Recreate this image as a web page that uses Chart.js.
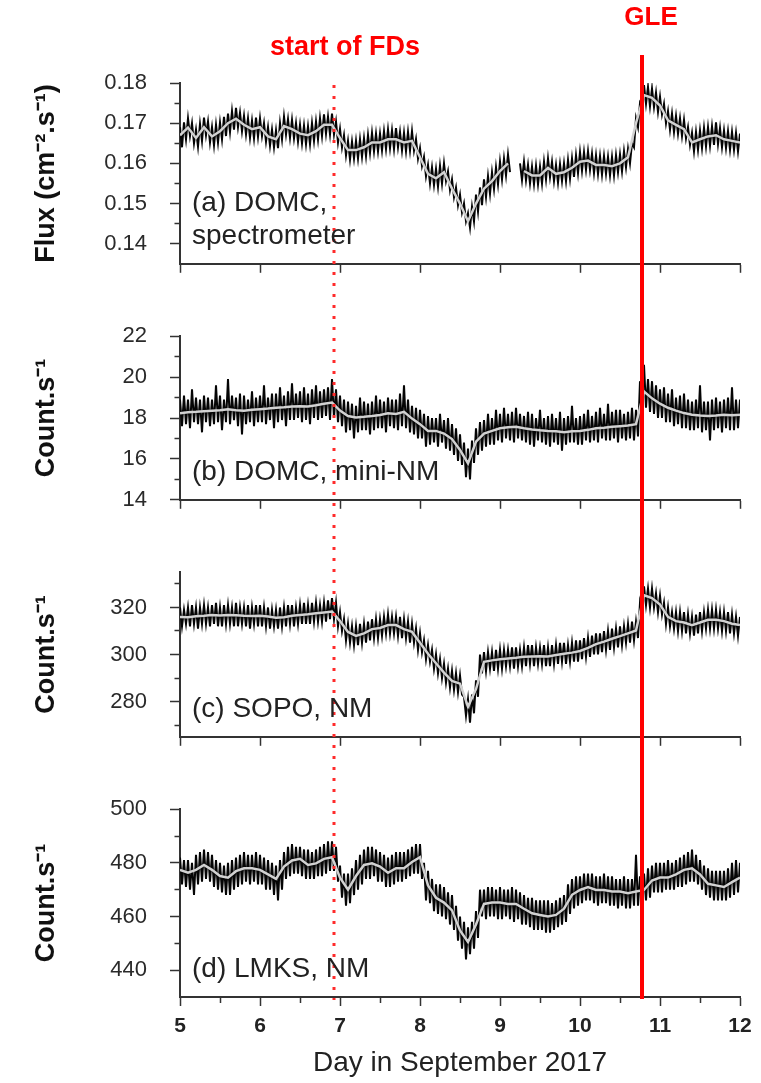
<!DOCTYPE html>
<html>
<head>
<meta charset="utf-8">
<script src="https://cdn.jsdelivr.net/npm/chart.js@4/dist/chart.umd.min.js"></script>
<style>
  html, body { margin: 0; padding: 0; background: #fff; }
  #wrap { position: relative; width: 761px; height: 1083px; }
  canvas { position: absolute; left: 0; }
</style>
</head>
<body>
<div id="wrap">
  <canvas id="panelA" width="761" height="300" style="top:0px"></canvas>
  <canvas id="panelB" width="761" height="236" style="top:300px"></canvas>
  <canvas id="panelC" width="761" height="237" style="top:536px"></canvas>
  <canvas id="panelD" width="761" height="310" style="top:773px"></canvas>
</div>
<script>
const dayMin = 5;
const dayMax = 12;
const rawStep = 0.025;    // raw samples, alternating upper / lower edge of the noisy trace
const smoothStep = 0.1;   // smoothed (grey) curve
const fdStart = 6.93;
const gleTime = 10.77;

// (a) DOMC spectrometer flux, one row per day
const domcSpecRaw = [
  .1690,.1640,.1702,.1660, .1712,.1668,.1700,.1650, .1684,.1642,.1698,.1656, .1714,.1670,.1704,.1652, .1690,.1645,.1696,.1652,
  .1702,.1660,.1716,.1668, .1724,.1678,.1730,.1684, .1738,.1690,.1726,.1680, .1718,.1672,.1712,.1664, .1706,.1662,.1714,.1666,
  .1712,.1668,.1700,.1654, .1690,.1644,.1684,.1640, .1682,.1638,.1700,.1660, .1716,.1672,.1710,.1664, .1708,.1662,.1700,.1654,
  .1696,.1650,.1694,.1648, .1692,.1648,.1700,.1656, .1704,.1660,.1712,.1668, .1722,.1674,.1716,.1672, .1724,.1672,.1704,.1652,
  .1686,.1640,.1670,.1620, .1656,.1610,.1654,.1612, .1656,.1612,.1660,.1616, .1662,.1618,.1670,.1626, .1676,.1630,.1674,.1630,
  .1674,.1632,.1680,.1636, .1684,.1638,.1682,.1636, .1688,.1640,.1678,.1632, .1676,.1630,.1678,.1632, .1680,.1632,.1660,.1612,
  .1638,.1594,.1616,.1568, .1596,.1550,.1590,.1546, .1586,.1542,.1594,.1550, .1600,.1556,.1580,.1534, .1560,.1516,.1540,.1496,
  .1522,.1478,.1500,.1456, .1476,.1440,.1492,.1456, .1522,.1480,.1540,.1496, .1560,.1516,.1568,.1524, .1578,.1536,.1590,.1548,
  .1604,.1560,.1612,.1570, .1622,.1578,null,null, null,null,.1600,.1558, .1604,.1558,.1596,.1550, .1592,.1548,.1594,.1548,
  .1592,.1550,.1604,.1560, .1612,.1566,.1604,.1556, .1596,.1552,.1598,.1556, .1600,.1556,.1608,.1562, .1612,.1566,.1620,.1576,
  .1628,.1582,.1628,.1584, .1630,.1584,.1624,.1576, .1620,.1574,.1618,.1572, .1618,.1574,.1616,.1570, .1616,.1570,.1620,.1578,
  .1622,.1580,.1630,.1590, .1636,.1600,.1650,.1640, .1712,.1690,.1750,.1740, .1795,.1748,.1790,.1742, .1786,.1740,.1776,.1728,
  .1766,.1722,.1748,.1700, .1730,.1684,.1724,.1678, .1718,.1674,.1712,.1668, .1708,.1662,.1690,.1646, .1676,.1630,.1678,.1634,
  .1682,.1638,.1688,.1642, .1690,.1644,.1692,.1646, .1702,.1648,.1688,.1640, .1682,.1638,.1680,.1634, .1678,.1634,.1676,.1630,
  .1674
];
const domcSpecSmooth = [
  .1670,.1689,.1663,.1690,.1667,.1680,.1700,.1711,.1696,.1685,
  .1690,.1667,.1660,.1693,.1685,.1674,.1670,.1680,.1696,.1696,
  .1663,.1633,.1633,.1640,.1652,.1652,.1660,.1660,.1652,.1656,
  .1615,.1574,.1563,.1578,.1537,.1500,.1456,.1500,.1537,.1556,
  .1581,.1600,null,.1581,.1570,.1570,.1589,.1574,.1578,.1589,
  .1604,.1607,.1596,.1596,.1593,.1600,.1615,.1700,.1770,.1763,
  .1744,.1707,.1696,.1685,.1652,.1660,.1667,.1670,.1660,.1656,.1652
];

// (b) DOMC mini neutron monitor
const domcMiniRaw = [
  18.9,17.6,19.1,17.7, 18.9,17.5,19.4,17.8, 19.0,17.7,18.9,17.3, 19.1,17.8,19.0,17.6, 18.9,17.7,19.6,17.8,
  19.1,17.4,18.9,17.8, 19.9,17.7,19.1,17.9, 19.0,17.6,19.2,17.2, 19.1,17.7,18.9,17.8, 19.3,17.6,19.0,17.8,
  19.1,17.8,19.6,17.7, 19.0,17.9,19.2,17.5, 19.2,17.8,19.5,17.9, 19.1,17.6,19.3,17.9, 19.7,17.9,19.2,18.0,
  19.3,17.8,19.5,17.9, 19.2,17.7,19.4,18.0, 19.6,17.9,19.3,18.0, 19.4,18.1,19.5,17.9, 19.9,18.0,19.4,17.8,
  19.1,17.6,18.9,17.3, 18.8,17.4,18.7,17.0, 18.6,17.3,19.0,17.4, 18.8,17.4,18.7,17.2, 18.8,17.4,19.1,17.5,
  18.9,17.5,18.8,17.3, 19.0,17.6,18.9,17.5, 18.9,17.4,19.2,17.6, 19.6,17.5,18.9,17.3, 18.6,17.2,18.5,17.0,
  18.4,17.0,18.2,16.6, 18.1,16.7,18.0,16.8, 18.0,16.6,18.2,16.8, 17.9,16.5,18.0,16.4, 17.7,16.2,17.5,15.9,
  17.2,15.7,16.8,15.1, 16.5,15.0,16.9,15.8, 17.5,16.2,17.8,16.4, 17.9,16.6,18.2,16.7, 18.0,16.7,18.4,16.9,
  18.2,16.8,18.5,17.0, 18.2,16.9,18.3,16.8, 18.5,17.0,18.2,16.9, 18.1,16.8,18.3,16.7, 18.2,16.6,18.0,16.9,
  18.4,16.8,18.0,16.7, 18.1,16.6,18.2,16.8, 18.0,16.7,18.3,16.4, 18.0,16.7,18.1,16.8, 18.6,16.8,18.0,16.7,
  18.1,16.7,18.2,16.9, 18.4,16.8,18.1,16.9, 18.3,16.8,18.5,17.0, 18.2,16.9,18.7,16.9, 18.3,17.0,18.4,16.8,
  18.4,17.0,18.2,16.9, 18.3,17.0,18.5,16.9, 18.4,17.1,19.8,18.5, 20.6,18.5,19.9,18.3, 19.8,18.2,19.6,18.0,
  19.4,18.0,19.5,17.8, 19.2,17.8,19.4,17.6, 19.0,17.7,19.1,17.5, 19.2,17.5,18.9,17.4, 18.8,17.4,18.9,17.5,
  19.6,17.3,18.8,17.4, 18.8,16.9,18.9,17.4, 19.0,17.5,18.8,17.3, 18.9,17.5,19.0,17.4, 19.5,17.4,18.9,17.5,
  18.9
];
const domcMiniSmooth = [
  18.23,18.28,18.30,18.33,18.36,18.38,18.43,18.38,18.36,18.40,
  18.43,18.46,18.50,18.52,18.56,18.58,18.56,18.62,18.70,18.76,
  18.36,18.10,18.03,18.06,18.10,18.15,18.23,18.20,18.30,17.97,
  17.70,17.37,17.37,17.24,16.97,16.44,15.78,16.84,17.24,17.37,
  17.50,17.55,17.57,17.50,17.44,17.40,17.37,17.35,17.30,17.35,
  17.37,17.42,17.50,17.52,17.57,17.60,17.63,17.70,19.29,18.96,
  18.70,18.50,18.36,18.24,18.16,18.12,18.10,18.12,18.16,18.14,18.16
];

// (c) SOPO neutron monitor
const sopoRaw = [
  320,312,319,313, 320,312,321,313, 320,311,320,313, 321,313,320,312, 321,313,322,312,
  320,312,321,313, 321,313,320,312, 322,312,320,313, 320,312,321,311, 320,313,321,312,
  321,312,320,312, 320,311,319,312, 319,311,320,312, 320,312,321,313, 321,312,320,313,
  321,313,322,313, 321,313,322,314, 322,314,321,314, 322,314,323,315, 324,315,322,312,
  318,310,315,306, 313,305,312,304, 312,304,313,305, 313,305,314,306, 315,307,315,307,
  315,308,316,309, 317,309,316,309, 316,308,316,307, 315,307,314,305, 313,305,311,302,
  309,301,306,298, 304,297,302,294, 300,292,298,290, 296,288,294,286, 293,285,292,284,
  291,283,282,274, 281,271,283,275, 289,282,300,292, 301,293,301,294, 301,293,302,294,
  302,294,302,295, 302,295,303,294, 303,295,302,295, 303,295,304,296, 304,295,303,296,
  303,296,304,295, 303,295,304,296, 304,296,305,297, 305,296,304,297, 305,297,306,297,
  306,298,307,299, 307,299,308,300, 309,300,309,301, 310,302,310,302, 311,303,311,303,
  312,304,312,305, 313,305,314,306, 314,307,322,318, 329,321,328,320, 328,320,326,318,
  325,317,322,313, 320,312,318,311, 318,310,318,310, 318,309,317,309, 316,308,317,309,
  318,310,318,311, 319,311,319,311, 319,311,318,310, 318,310,318,309, 317,309,316,308,
  316
];
const sopoSmooth = [
  316.0,315.8,316.3,316.5,316.8,316.6,316.8,316.7,316.5,316.4,
  316.5,316.2,315.6,315.8,316.5,316.8,317.1,317.5,317.9,318.3,
  314.2,309.6,307.9,309.0,310.8,311.3,312.5,312.5,310.8,309.6,
  305.0,300.3,296.3,292.3,288.8,287.6,277.8,285.3,296.9,297.5,
  298.0,298.3,298.6,299.0,299.2,299.3,299.2,299.8,300.3,300.8,
  301.5,302.8,304.4,305.5,306.7,307.8,309.0,310.2,325.2,324.0,
  321.2,316.0,314.2,313.6,312.5,313.6,314.8,314.8,314.2,313.1,312.5
];

// (d) LMKS neutron monitor
const lmksRaw = [
  482,472,481,471, 481,470,480,468, 483,472,484,473, 485,474,484,473, 483,471,481,470,
  480,469,479,468, 480,468,481,470, 482,471,483,472, 484,473,483,472, 483,473,484,472,
  483,472,482,470, 481,470,480,468, 479,466,481,470, 484,474,486,475, 487,476,486,476,
  486,475,485,474, 485,474,484,474, 485,475,486,475, 487,476,488,477, 488,477,486,473,
  479,467,476,464, 476,465,478,468, 481,470,483,472, 485,474,486,474, 486,475,485,473,
  484,473,483,471, 482,471,483,472, 484,473,484,473, 484,474,485,475, 486,476,487,476,
  487,474,480,466, 477,465,474,462, 472,461,472,460, 471,459,469,457, 468,455,464,451,
  460,448,458,444, 456,446,458,448, 462,452,470,460, 470,459,471,460, 471,460,470,459,
  471,459,470,460, 470,459,471,458, 470,459,469,457, 468,457,467,456, 467,455,466,455,
  466,455,466,454, 466,454,465,455, 466,456,467,457, 468,458,472,461, 474,463,475,464,
  475,465,476,466, 476,466,476,465, 475,464,475,465, 476,465,475,464, 475,464,474,463,
  474,464,475,463, 474,463,474,464, 483,464,475,465, 476,466,478,467, 479,469,480,469,
  480,469,480,470, 481,470,480,470, 481,471,482,471, 483,472,484,473, 485,473,483,472,
  481,470,479,468, 478,467,477,466, 477,466,477,466, 477,466,478,467, 480,468,481,469,
  480
];
const lmksSmooth = [
  477.4,476.3,477.4,479.2,477.4,475.1,474.5,476.9,478.0,478.0,
  477.4,475.7,474.0,478.6,480.9,481.5,479.2,479.8,481.5,482.1,
  474.5,470.0,475.1,479.2,479.8,478.6,476.3,478.0,478.0,480.3,
  482.1,471.6,467.0,465.2,462.3,454.8,450.5,457.0,464.7,465.2,
  465.2,464.7,464.7,462.9,461.2,460.6,460.0,460.6,462.9,468.1,
  469.9,471.0,469.9,469.9,469.3,469.3,468.7,469.3,469.9,473.4,
  474.5,474.5,475.7,477.4,478.0,475.7,472.2,471.6,471.0,472.8,474.5
];

const FONT = "'Liberation Sans', Arial, Helvetica, sans-serif";
Chart.defaults.font.family = FONT;
Chart.defaults.color = '#222';

function toPoints(values, step) {
  return values.map((v, i) => ({ x: dayMin + i * step, y: v }));
}

// red event lines, headings and panel captions
const markerPlugin = {
  id: 'markers',
  afterDraw(chart, args, o) {
    const { ctx, chartArea } = chart;
    const xs = chart.scales.x;
    const xf = Math.round(xs.getPixelForValue(fdStart));
    const xg = Math.round(xs.getPixelForValue(gleTime));
    ctx.save();

    ctx.strokeStyle = '#ff2b2b';
    ctx.lineWidth = 3;
    ctx.setLineDash([3, 8]);
    ctx.lineDashOffset = o.top + o.fdFrom - 85;
    ctx.beginPath();
    ctx.moveTo(xf, o.fdFrom);
    ctx.lineTo(xf, o.fdTo);
    ctx.stroke();

    ctx.setLineDash([]);
    ctx.strokeStyle = '#f00';
    ctx.lineWidth = 4;
    ctx.beginPath();
    ctx.moveTo(xg, o.gleFrom);
    ctx.lineTo(xg, o.gleTo);
    ctx.stroke();

    ctx.fillStyle = '#222';
    ctx.font = '28px ' + FONT;
    ctx.textAlign = 'left';
    ctx.textBaseline = 'middle';
    const n = o.caption.length;
    o.caption.forEach((line, i) => {
      ctx.fillText(line, chartArea.left + 12, chartArea.bottom - 28 - (n - 1 - i) * 33);
    });

    if (o.headings) {
      ctx.fillStyle = '#f00';
      ctx.font = 'bold 27px ' + FONT;
      ctx.textAlign = 'center';
      ctx.fillText('start of FDs', xf + 11, 48);
      ctx.font = 'bold 26px ' + FONT;
      ctx.fillText('GLE', xg + 9, 18);
    }
    ctx.restore();
  }
};

function makePanel(id, p) {
  const tickKind = p.tickKind;
  return new Chart(document.getElementById(id), {
    type: 'line',
    data: {
      datasets: [
        { data: toPoints(p.raw, rawStep), borderColor: '#050505', borderWidth: 2, order: 1 },
        { data: toPoints(p.smooth, smoothStep), borderColor: '#d2d2d2', borderWidth: 2.5, order: 0 }
      ]
    },
    options: {
      responsive: false,
      animation: false,
      devicePixelRatio: 1,
      spanGaps: false,
      elements: { point: { radius: 0 }, line: { tension: 0 } },
      layout: { padding: { top: p.padTop, right: 21, left: 0, bottom: 0 } },
      plugins: {
        legend: { display: false },
        tooltip: { enabled: false },
        markers: p.markers
      },
      scales: {
        x: {
          type: 'linear',
          min: dayMin,
          max: dayMax,
          afterFit: s => { s.height = p.xHeight; },
          border: { color: '#333', width: 2 },
          grid: {
            drawOnChartArea: false,
            tickLength: 9,
            tickWidth: 1.5,
            tickColor: '#333',
            tickBorderDash: c => Number.isInteger(c.tick.value) ? [] : [5, 100]
          },
          ticks: {
            stepSize: p.xStep,
            display: p.showDays,
            autoSkip: false,
            maxRotation: 0,
            padding: 8,
            color: '#222',
            font: { size: 21, weight: 'bold' },
            callback: v => Number.isInteger(v) ? String(v) : ''
          },
          title: {
            display: p.showDays,
            text: 'Day in September 2017',
            color: '#222',
            font: { size: 28 },
            padding: { top: 0, bottom: 3 }
          }
        },
        y: {
          min: p.yMin,
          max: p.yMax,
          afterFit: s => { s.width = 180; },
          border: { color: '#333', width: 2 },
          grid: {
            drawOnChartArea: false,
            tickLength: 10,
            tickWidth: 1.5,
            tickColor: c => tickKind(c.tick.value) === 'none' ? 'rgba(0,0,0,0)' : '#333',
            tickBorderDash: c => tickKind(c.tick.value) === 'minor' ? [0, 4.5, 10, 100] : []
          },
          ticks: {
            stepSize: p.yStep,
            autoSkip: false,
            padding: 23,
            color: '#2a2a2a',
            font: { size: 22 },
            callback: v => tickKind(v) === 'major' ? p.fmt(v) : ''
          },
          title: {
            display: true,
            text: p.yTitle,
            color: '#111',
            font: { size: 27, weight: 'bold' },
            padding: { top: 30, bottom: 0 }
          }
        }
      }
    },
    plugins: [markerPlugin]
  });
}

makePanel('panelA', {
  raw: domcSpecRaw, smooth: domcSpecSmooth,
  yMin: 0.135, yMax: 0.18, yStep: 0.005,
  tickKind: v => { const k = Math.round(v * 1000); return k < 140 ? 'none' : (k % 10 === 0 ? 'major' : 'minor'); },
  fmt: v => v.toFixed(2),
  yTitle: 'Flux (cm⁻².s⁻¹)',
  padTop: 83, xHeight: 13, xStep: 1, showDays: false,
  markers: { top: 0, fdFrom: 85, fdTo: 300, gleFrom: 55, gleTo: 300, headings: true,
             caption: ['(a) DOMC,', 'spectrometer'] }
});

makePanel('panelB', {
  raw: domcMiniRaw, smooth: domcMiniSmooth,
  yMin: 14, yMax: 22, yStep: 1,
  tickKind: v => (Math.round(v) % 2 === 0 ? 'major' : 'minor'),
  fmt: v => String(v),
  yTitle: 'Count.s⁻¹',
  padTop: 20, xHeight: 13, xStep: 1, showDays: false,
  markers: { top: 300, fdFrom: 0, fdTo: 236, gleFrom: 0, gleTo: 236, headings: false,
             caption: ['(b) DOMC, mini-NM'] }
});

makePanel('panelC', {
  raw: sopoRaw, smooth: sopoSmooth,
  yMin: 265, yMax: 335, yStep: 5,
  tickKind: v => { const k = Math.round(v); return k % 20 === 0 ? 'major' : (k % 10 === 0 ? 'minor' : 'none'); },
  fmt: v => String(v),
  yTitle: 'Count.s⁻¹',
  padTop: 22, xHeight: 13, xStep: 1, showDays: false,
  markers: { top: 536, fdFrom: 0, fdTo: 237, gleFrom: 0, gleTo: 237, headings: false,
             caption: ['(c) SOPO, NM'] }
});

makePanel('panelD', {
  raw: lmksRaw, smooth: lmksSmooth,
  yMin: 430, yMax: 500, yStep: 10,
  tickKind: v => { const k = Math.round(v); return k === 430 ? 'none' : (k % 20 === 0 ? 'major' : 'minor'); },
  fmt: v => String(v),
  yTitle: 'Count.s⁻¹',
  padTop: 22, xHeight: 86, xStep: 0.5, showDays: true,
  markers: { top: 773, fdFrom: 0, fdTo: 227, gleFrom: 0, gleTo: 226, headings: false,
             caption: ['(d) LMKS, NM'] }
});
</script>
</body>
</html>
